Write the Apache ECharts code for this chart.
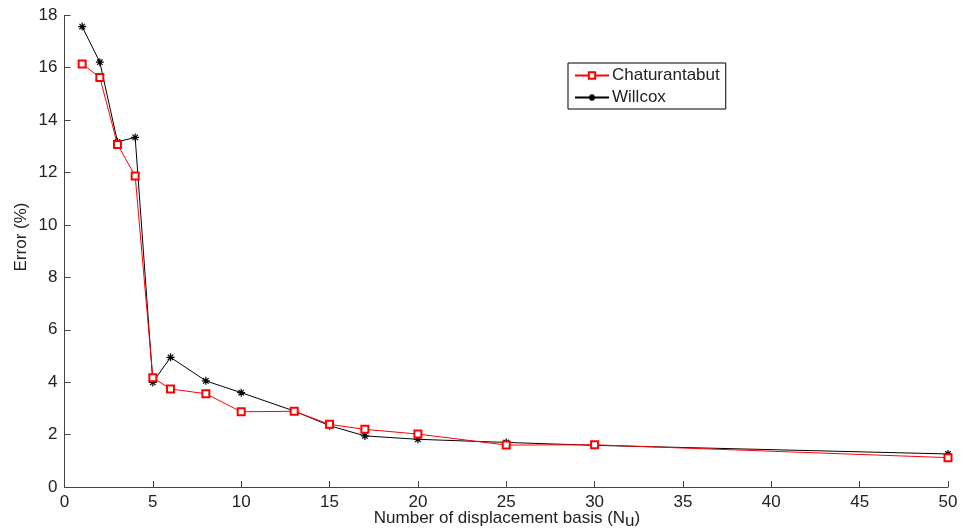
<!DOCTYPE html>
<html><head><meta charset="utf-8">
<script src="https://cdn.jsdelivr.net/npm/echarts@6/dist/echarts.min.js"></script>
<style>html,body{margin:0;padding:0;background:#fff}#c{width:962px;height:531px}</style>
</head><body><div id="c"></div>
<script>
var basisCounts = [1, 2, 3, 4, 5, 6, 8, 10, 13, 15, 17, 20, 25, 30, 50];
var chaturantabut = [16.14, 15.63, 13.07, 11.87, 4.17, 3.74, 3.56, 2.87, 2.89, 2.39, 2.20, 2.02, 1.60, 1.61, 1.12];
var willcox = [17.57, 16.21, 13.17, 13.34, 3.99, 4.95, 4.05, 3.60, 2.90, 2.34, 1.95, 1.82, 1.70, 1.59, 1.26];
var seriesNames = ['Chaturantabut', 'Willcox'];
var xTitle = ['Number of displacement basis (N', 'u', ')'];
var yTitle = 'Error (%)';

function pairs(xs, ys) { return xs.map(function (x, i) { return [x, ys[i]]; }); }
var FONT = "'Liberation Sans', Arial, Helvetica, sans-serif";
var asterisk = 'path://M5,0L5,10M0,5L10,5M1.6,1.6L8.4,8.4M1.6,8.4L8.4,1.6';

var chart = echarts.init(document.getElementById('c'));
chart.setOption({
  animation: false,
  backgroundColor: '#fff',
  textStyle: { fontFamily: FONT },
  grid: { left: 64.5, right: 14, top: 15.3, bottom: 44, containLabel: false, outerBoundsMode: 'none' },
  legend: {
    left: 568, top: 63, orient: 'vertical',
    itemWidth: 34, itemHeight: 8, itemGap: 5,
    padding: [4, 6, 3, 6],
    borderColor: '#000', borderWidth: 1, backgroundColor: '#fff',
    textStyle: { fontSize: 17, color: '#222', fontFamily: FONT, padding: [0, 0, 0, -2] },
    data: seriesNames
  },
  graphic: [
    {
      type: 'text', x: 21, y: 237, rotation: Math.PI / 2, silent: true,
      style: { text: yTitle, fontSize: 17, fontFamily: FONT, fill: '#222', align: 'center', verticalAlign: 'middle' }
    },
    {
      type: 'text', x: 507, y: 530, silent: true,
      style: {
        text: '{t|' + xTitle[0] + '}{s|' + xTitle[1] + '}{t|' + xTitle[2] + '}',
        align: 'center', verticalAlign: 'bottom',
        rich: {
          t: { fontSize: 17, fontFamily: FONT, fill: '#222', verticalAlign: 'top', lineHeight: 20 },
          s: { fontSize: 17, fontFamily: FONT, fill: '#222', verticalAlign: 'bottom', lineHeight: 20, padding: [7, 0, 0, 0] }
        }
      }
    }
  ],
  xAxis: {
    type: 'value', min: 0, max: 50, interval: 5,
    axisLine: { lineStyle: { color: '#444', width: 1 } },
    axisTick: { inside: true, length: 6, lineStyle: { color: '#444' } },
    axisLabel: { fontSize: 17, color: '#222', margin: 7, fontFamily: FONT },
    splitLine: { show: false }
  },
  yAxis: {
    type: 'value', min: 0, max: 18, interval: 2,
    axisLine: { show: true, lineStyle: { color: '#444', width: 1 } },
    axisTick: { show: true, inside: true, length: 6, lineStyle: { color: '#444' } },
    axisLabel: { fontSize: 17, color: '#222', margin: 7, fontFamily: FONT },
    splitLine: { show: false }
  },
  series: [
    {
      name: seriesNames[0], type: 'line', data: pairs(basisCounts, chaturantabut),
      symbol: 'emptyRect', symbolSize: 7,
      lineStyle: { color: '#ff0000', width: 1 },
      itemStyle: { color: '#ff0000', borderColor: '#ff0000', borderWidth: 1 },
      z: 3
    },
    {
      name: seriesNames[1], type: 'line', data: pairs(basisCounts, willcox),
      symbol: asterisk, symbolSize: 8,
      lineStyle: { color: '#000', width: 1 },
      itemStyle: { color: '#000', borderColor: '#000', borderWidth: 1.2 },
      z: 2
    }
  ]
});
</script></body></html>
